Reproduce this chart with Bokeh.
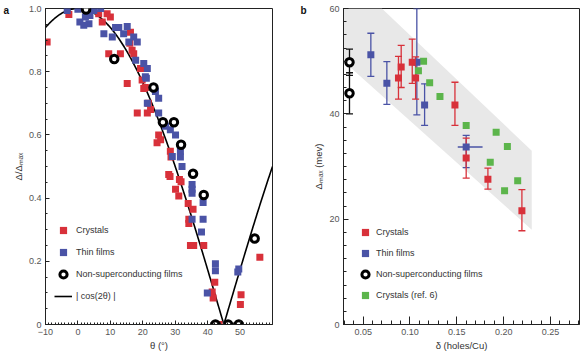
import numpy as np
from bokeh.plotting import figure
from bokeh.layouts import row
from bokeh.models import (ColumnDataSource, Whisker, TeeHead, Legend, LegendItem,
                          Label, FixedTicker, Range1d, NumeralTickFormatter)
from bokeh.embed import file_html
from bokeh.resources import INLINE

# ---------------- Panel a data ----------------
a_cryst_theta = [-9.5, -2.8, 6.4, 9.0, 10.0, 7.5, 9.5, 13.1, 16.2, 16.0, 16.7, 17.2, 15.2,
                 19.8, 19.3, 20.3, 20.8, 21.7, 18.3, 21.4, 22.4, 24.9, 25.5, 24.4, 28.5,
                 28.7, 28.0, 28.4, 31.3, 31.8, 30.1, 31.1, 34.0, 35.5, 34.2, 34.2, 34.7,
                 35.7, 38.8, 42.2, 41.4, 41.7, 43.5, 50.3, 50.1, 56.1]
a_cryst_delta = [0.894, 0.981, 0.983, 0.983, 0.973, 0.957, 0.857, 0.857, 0.925, 0.89, 0.868,
                 0.857, 0.763, 0.774, 0.81, 0.747, 0.75, 0.70, 0.669, 0.669, 0.68, 0.60,
                 0.585, 0.575, 0.548, 0.53, 0.475, 0.468, 0.459, 0.452, 0.428, 0.407, 0.383,
                 0.365, 0.333, 0.32, 0.25, 0.25, 0.25, 0.134, 0.103, 0.084, 0.0, 0.094,
                 0.063, 0.213]

a_film_theta = [-3.3, 0.0, 0.6, 2.3, 3.4, 1.8, 3.7, 4.9, 7.0, 8.0, 10.6, 11.6, 12.6, 15.2,
                14.1, 15.7, 17.2, 18.3, 17.8, 20.3, 21.4, 21.1, 20.8, 23.9, 24.9, 21.4,
                24.9, 27.0, 28.5, 30.1, 31.6, 31.6, 29.1, 32.1, 35.2, 35.2, 35.2, 38.6,
                35.2, 38.6, 38.1, 42.4, 42.4, 39.9, 49.6, 49.3, 46.0]
a_film_delta = [0.994, 0.998, 0.957, 0.973, 0.952, 0.947, 0.978, 0.994, 1.0, 0.92, 0.91,
                0.94, 0.94, 0.943, 0.92, 0.894, 0.91, 0.894, 0.836, 0.826, 0.81, 0.779,
                0.784, 0.737, 0.716, 0.70, 0.669, 0.627, 0.616, 0.60, 0.548, 0.53, 0.532,
                0.50, 0.443, 0.428, 0.415, 0.386, 0.333, 0.333, 0.293, 0.192, 0.17, 0.10,
                0.176, 0.166, 0.0]

a_ns_theta = [2.5, 11.2, 23.3, 26.2, 29.6, 31.8, 35.5, 38.8, 42.4, 46.3, 49.6, 54.5]
a_ns_delta = [0.997, 0.84, 0.75, 0.64, 0.64, 0.569, 0.477, 0.41, 0.0, 0.0, 0.0, 0.272]

a_xticks = [-10, 0, 10, 20, 30, 40, 50]
a_yticks = [0, 0.2, 0.4, 0.6, 0.8, 1.0]

# ---------------- Panel b data ----------------
b_cryst_x = [0.0877, 0.0906, 0.1024, 0.106, 0.148, 0.160, 0.1832, 0.2195]
b_cryst_y = [46.8, 48.9, 49.8, 46.8, 41.7, 31.6, 27.6, 21.6]
b_cryst_lo = [42.8, 45.0, 45.8, 42.8, 37.8, 27.8, 25.7, 17.8]
b_cryst_hi = [50.9, 53.0, 54.2, 50.8, 46.0, 35.4, 29.7, 25.6]

b_film_x = [0.0582, 0.0753, 0.1073, 0.1156, 0.160]
b_film_y = [51.2, 45.8, 49.8, 41.7, 33.7]
b_film_lo = [47.1, 41.8, 39.8, 37.8, 29.8]
b_film_hi = [55.3, 49.9, 60.0, 45.7, 35.9]
b_film_xerr_base = [33.7]
b_film_xerr_lo = [0.151]
b_film_xerr_hi = [0.1775]

b_ns_x = [0.0354, 0.0354]
b_ns_y = [49.8, 43.9]
b_ns_lo = [47.3, 40.0]
b_ns_hi = [52.3, 47.8]

b_ref_x = [0.1145, 0.109, 0.121, 0.132, 0.160, 0.192, 0.204, 0.1857, 0.215, 0.201]
b_ref_y = [50.0, 48.2, 45.9, 43.3, 37.8, 36.5, 33.8, 30.8, 27.3, 25.4]

b_band_x = [0.029, 0.07, 0.23, 0.23, 0.029]
b_band_y = [60.0, 60.0, 33.0, 18.0, 50.0]

b_xticks = [0.05, 0.10, 0.15, 0.20, 0.25]
b_yticks = [0, 20, 40, 60]

RED = "#d8313a"
BLUE = "#4a53a6"
GREEN = "#5cb54b"
BAND = "#e8e8e8"
FONT = "Liberation Sans"
TXT = "#333333"
TICKC = "#555555"


def style_axes(p, maj_in, min_in):
    for ax in (p.xaxis[0], p.yaxis[0]):
        ax.major_tick_out = 0
        ax.minor_tick_out = 0
        ax.major_tick_in = maj_in
        ax.minor_tick_in = min_in
        ax.axis_line_color = "#222222"
        ax.major_tick_line_color = "#222222"
        ax.minor_tick_line_color = "#222222"
        ax.major_label_text_font = FONT
        ax.major_label_text_font_size = "9px"
        ax.major_label_text_color = TICKC
        ax.axis_label_text_font = FONT
        ax.axis_label_text_font_size = "9.5px"
        ax.axis_label_text_font_style = "normal"
        ax.axis_label_text_color = TXT
        ax.major_label_standoff = 4
        ax.axis_label_standoff = 2
    p.xgrid.visible = False
    p.ygrid.visible = False
    p.outline_line_color = "#222222"
    p.outline_line_alpha = 1.0


def make_legend(p, items, loc, standoff, spacing):
    leg = Legend(items=items, location=loc, padding=0, margin=0, spacing=spacing,
                 glyph_width=18, glyph_height=18, label_height=18,
                 label_standoff=standoff, background_fill_alpha=0,
                 border_line_alpha=0, label_text_font=FONT,
                 label_text_font_size="9px", label_text_color=TXT)
    p.add_layout(leg)


def panel_letter(p, letter, x, y):
    p.add_layout(Label(x=x, y=y, x_units="screen", y_units="screen", text=letter,
                       text_font=FONT, text_font_style="bold", text_font_size="10px",
                       text_baseline="middle", text_color="#111111"), "left")


# ---------------- Panel a ----------------
pa = figure(width=290, height=354, x_range=Range1d(-10, 60), y_range=Range1d(0, 1.0),
            output_backend="svg", toolbar_location=None,
            min_border_left=45, min_border_right=18, min_border_top=8, min_border_bottom=28)
style_axes(pa, 4, 2)
pa.xaxis.ticker = FixedTicker(ticks=a_xticks, minor_ticks=list(range(-10, 61)))
pa.yaxis.ticker = FixedTicker(ticks=a_yticks, minor_ticks=[i * 0.05 for i in range(21)])
pa.xaxis.major_label_overrides = {-10: "\u221210"}
pa.yaxis.formatter = NumeralTickFormatter(format="0.0")
pa.yaxis.major_label_overrides = {0: "0"}
pa.xaxis.axis_label = "\u03b8 (\u00b0)"
pa.yaxis.axis_label = "\u0394/\u0394\u2098\u2090\u2093"

theta_curve = np.linspace(-10, 60, 351)
cos_curve = np.abs(np.cos(np.radians(2 * theta_curve)))
r_line = pa.line(theta_curve, cos_curve, line_color="black", line_width=1.6)

r_ar = pa.scatter(a_cryst_theta, a_cryst_delta, marker="square", size=7,
                  fill_color=RED, line_color=None)
r_ab = pa.scatter(a_film_theta, a_film_delta, marker="square", size=7,
                  fill_color=BLUE, line_color=None)
r_an = pa.scatter(a_ns_theta, a_ns_delta, marker="circle", size=7.5,
                  fill_color="white", line_color="black", line_width=3)

make_legend(pa, [LegendItem(label="Crystals", renderers=[r_ar]),
                 LegendItem(label="Thin films", renderers=[r_ab]),
                 LegendItem(label="Non-superconducting films", renderers=[r_an]),
                 LegendItem(label="| cos(2\u03b8) |", renderers=[r_line])],
            (9, 19), 4, 4)
panel_letter(pa, "a", 0, 314)

# ---------------- Panel b ----------------
pb = figure(width=290, height=354, x_range=Range1d(0.029, 0.281), y_range=Range1d(0, 60),
            output_backend="svg", toolbar_location=None,
            min_border_left=53, min_border_right=1, min_border_top=8, min_border_bottom=30)
style_axes(pb, 8, 4)
pb.xaxis.ticker = FixedTicker(ticks=b_xticks, minor_ticks=[0.03 + 0.01 * i for i in range(26)])
pb.yaxis.ticker = FixedTicker(ticks=b_yticks, minor_ticks=[2.5 * i for i in range(25)])
pb.yaxis.major_tick_in = 5
pb.yaxis.minor_tick_in = 3
pb.xaxis.formatter = NumeralTickFormatter(format="0.00")
pb.xaxis.axis_label = "\u03b4 (holes/Cu)"
pb.yaxis.axis_label = "\u0394\u2098\u2090\u2093 (mev)"

band = pb.patch(b_band_x, b_band_y, fill_color=BAND, line_color=None)
band.level = "image"

def add_whisker(p, base, lo, hi, color, dim="height", heads=True):
    src = ColumnDataSource(dict(base=base, lower=lo, upper=hi))
    w = Whisker(source=src, base="base", lower="lower", upper="upper", dimension=dim,
                line_color=color, line_width=1.3, level="underlay")
    if heads:
        w.upper_head = TeeHead(size=7, line_color=color, line_width=1.3)
        w.lower_head = TeeHead(size=7, line_color=color, line_width=1.3)
    else:
        w.upper_head = None
        w.lower_head = None
    p.add_layout(w)

add_whisker(pb, b_ns_x, b_ns_lo, b_ns_hi, "#111111")
add_whisker(pb, b_film_x, b_film_lo, b_film_hi, BLUE)
add_whisker(pb, b_film_xerr_base, b_film_xerr_lo, b_film_xerr_hi, BLUE, dim="width", heads=False)
add_whisker(pb, b_cryst_x, b_cryst_lo, b_cryst_hi, RED)

r_bg = pb.scatter(b_ref_x, b_ref_y, marker="square", size=7, fill_color=GREEN, line_color=None)
r_bb = pb.scatter(b_film_x, b_film_y, marker="square", size=7, fill_color=BLUE, line_color=None)
r_br = pb.scatter(b_cryst_x, b_cryst_y, marker="square", size=7, fill_color=RED, line_color=None)
r_bn = pb.scatter(b_ns_x, b_ns_y, marker="circle", size=7.5, fill_color="white",
                  line_color="black", line_width=3)

make_legend(pb, [LegendItem(label="Crystals", renderers=[r_br]),
                 LegendItem(label="Thin films", renderers=[r_bb]),
                 LegendItem(label="Non-superconducting films", renderers=[r_bn]),
                 LegendItem(label="Crystals (ref. 6)", renderers=[r_bg])],
            (13, 20), 2, 3)
panel_letter(pb, "b", -4, 314)

layout = row(pa, pb)
open("out.html", "w").write(file_html(layout, INLINE))
